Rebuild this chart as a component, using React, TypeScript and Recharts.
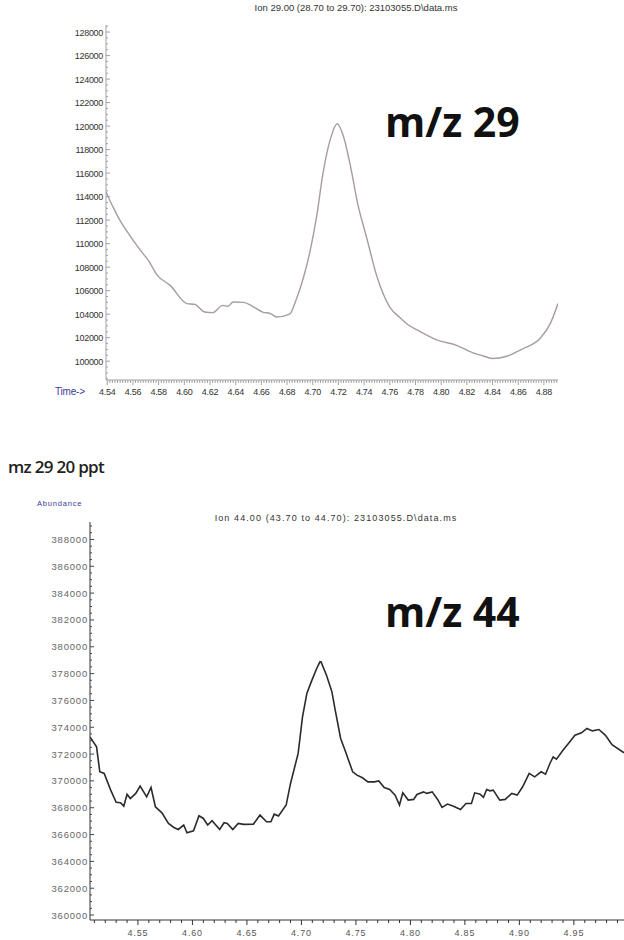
import { LineChart, Line, XAxis, YAxis } from 'recharts';

// m/z 29 trace (top panel)
const TOP_TIME = [
  4.539, 4.545, 4.55, 4.555, 4.566, 4.572, 4.579, 4.589, 4.602, 4.608, 4.616, 4.622, 4.63, 4.634,
  4.638, 4.646, 4.654, 4.661, 4.667, 4.672, 4.682, 4.687, 4.693, 4.698, 4.703, 4.708, 4.714, 4.719,
  4.724, 4.729, 4.735, 4.742, 4.75, 4.76, 4.768, 4.773, 4.784, 4.797, 4.812, 4.825, 4.834, 4.84,
  4.851, 4.864, 4.877, 4.885, 4.891,
];
const TOP_ABUNDANCE = [
  114400, 113000, 111960, 111100, 109400, 108570, 107300, 106450, 104900, 104840, 104180, 104130,
  104750, 104670, 105030, 105000, 104610, 104180, 104050, 103760, 104000, 105200, 107200, 109400,
  112300, 116000, 119000, 120200, 119100, 116800, 113400, 110500, 107200, 104600, 103700, 103200,
  102500, 101800, 101350, 100700, 100400, 100230, 100420, 101080, 101930, 103200, 104900,
];
const TOP_X_TICKS = [
  4.54, 4.56, 4.58, 4.6, 4.62, 4.64, 4.66, 4.68, 4.7, 4.72, 4.74, 4.76, 4.78, 4.8, 4.82, 4.84, 4.86, 4.88,
];
const TOP_Y_TICKS = [
  100000, 102000, 104000, 106000, 108000, 110000, 112000, 114000, 116000, 118000, 120000, 122000,
  124000, 126000, 128000,
];

// m/z 44 trace (bottom panel)
const BOTTOM_TIME = [
  4.506, 4.512, 4.515, 4.519, 4.525, 4.53, 4.534, 4.537, 4.54, 4.543, 4.548, 4.552, 4.558, 4.562,
  4.566, 4.572, 4.578, 4.583, 4.587, 4.592, 4.595, 4.601, 4.606, 4.61, 4.614, 4.618, 4.625, 4.629,
  4.632, 4.637, 4.642, 4.647, 4.656, 4.662, 4.668, 4.672, 4.675, 4.679, 4.686, 4.69, 4.697, 4.701,
  4.705, 4.709, 4.714, 4.717, 4.718, 4.723, 4.728, 4.731, 4.736, 4.74, 4.747, 4.751, 4.756, 4.761,
  4.767, 4.771, 4.776, 4.781, 4.786, 4.79, 4.793, 4.798, 4.803, 4.806, 4.812, 4.815, 4.82, 4.825,
  4.829, 4.834, 4.839, 4.846, 4.851, 4.856, 4.859, 4.864, 4.867, 4.87, 4.873, 4.876, 4.882, 4.887,
  4.893, 4.898, 4.903, 4.909, 4.914, 4.92, 4.924, 4.928, 4.931, 4.934, 4.94, 4.945, 4.951, 4.957,
  4.962, 4.967, 4.973, 4.979, 4.985, 4.996,
];
const BOTTOM_ABUNDANCE = [
  373280, 372540, 370680, 370560, 369310, 368400, 368370, 368120, 369010, 368690, 369070, 369610,
  368810, 369510, 368070, 367620, 366830, 366530, 366380, 366710, 366130, 366280, 367400, 367200,
  366710, 367030, 366380, 366880, 366830, 366380, 366830, 366760, 366780, 367450, 366950, 366950,
  367520, 367380, 368200, 369810, 372050, 374770, 376520, 377380, 378380, 378870, 378870, 377880,
  376640, 375270, 373160, 372290, 370680, 370430, 370230, 369930, 369930, 370000, 369510, 369360,
  368940, 368200, 369110, 368570, 368620, 368990, 369180, 369070, 369180, 368620, 368020, 368270,
  368120, 367870, 368320, 368320, 369110, 369010, 368770, 369360, 369260, 369310, 368570, 368620,
  369070, 368940, 369560, 370560, 370300, 370680, 370500, 371300, 371790, 371620, 372290, 372790,
  373410, 373580, 373910, 373730, 373830, 373400, 372700, 372100,
];
const BOTTOM_X_TICKS = [4.55, 4.6, 4.65, 4.7, 4.75, 4.8, 4.85, 4.9, 4.95];
const BOTTOM_Y_TICKS = [
  360000, 362000, 364000, 366000, 368000, 370000, 372000, 374000, 376000, 378000, 380000, 382000,
  384000, 386000, 388000,
];

const topData = TOP_TIME.map((t, i) => ({ t, v: TOP_ABUNDANCE[i] }));
const bottomData = BOTTOM_TIME.map((t, i) => ({ t, v: BOTTOM_ABUNDANCE[i] }));

// minor tick positions for the axis rulers
const range = (a: number, b: number, step: number) => {
  const out: number[] = [];
  const n = Math.round((b - a) / step);
  for (let i = 0; i <= n; i++) out.push(+(a + i * step).toFixed(4));
  return out;
};
const isIn = (list: number[], v: number) => list.some((m) => Math.abs(m - v) < 1e-6);

const FONT = '"Liberation Sans", Arial, sans-serif';

function XTick(props: any) {
  const { x, y, payload, majors, color, labelColor, fontSize, spacing, labelDy } = props;
  const major = isIn(majors, payload.value);
  return (
    <g>
      <line x1={x} x2={x} y1={y} y2={y + (major ? 5 : 3)} stroke={color} strokeWidth={1} />
      {major && (
        <text
          x={x}
          y={y + labelDy}
          textAnchor="middle"
          fontFamily={FONT}
          fontSize={fontSize}
          letterSpacing={spacing}
          fill={labelColor}
        >
          {payload.value.toFixed(2)}
        </text>
      )}
    </g>
  );
}

function YTick(props: any) {
  const { x, y, payload, majors, color, labelColor, fontSize, spacing, labelDx } = props;
  const major = isIn(majors, payload.value);
  return (
    <g>
      <line x1={x} x2={x + (major ? 4 : 2)} y1={y} y2={y} stroke={color} strokeWidth={1} />
      {major && (
        <text
          x={x - labelDx}
          y={y + 3.5}
          textAnchor="end"
          fontFamily={FONT}
          fontSize={fontSize}
          letterSpacing={spacing}
          fill={labelColor}
        >
          {payload.value}
        </text>
      )}
    </g>
  );
}

export default function App() {
  return (
    <div style={{ position: 'absolute', left: 0, top: 0, width: 624, height: 940, background: '#fff' }}>
      <div style={{ position: 'absolute', left: 0, top: 0 }}>
        <LineChart width={624} height={402} data={topData} margin={{ top: 25, right: 66, bottom: 0, left: 0 }}>
          <XAxis
            type="number"
            dataKey="t"
            domain={[4.539, 4.891]}
            allowDataOverflow
            ticks={range(4.54, 4.89, 0.002)}
            interval={0}
            height={22}
            tickSize={0}
            tickMargin={0}
            tickLine={false}
            stroke="#a0a0a0"
            tick={(p: any) => (
              <XTick {...p} majors={TOP_X_TICKS} color="#a0a0a0" labelColor="#333" fontSize={9} spacing={-0.3} labelDy={15} />
            )}
          />
          <YAxis
            type="number"
            domain={[98400, 128600]}
            allowDataOverflow
            ticks={range(98500, 128500, 500)}
            interval={0}
            width={106}
            tickSize={0}
            tickMargin={0}
            tickLine={false}
            stroke="#a0a0a0"
            tick={(p: any) => (
              <YTick {...p} majors={TOP_Y_TICKS} color="#a0a0a0" labelColor="#333" fontSize={9} spacing={-0.3} labelDx={3} />
            )}
          />
          <Line
            type="monotone"
            dataKey="v"
            stroke="#a89c9c"
            strokeWidth={1.4}
            dot={false}
            isAnimationActive={false}
          />
        </LineChart>
      </div>

      <div style={{ position: 'absolute', left: 0, top: 500 }}>
        <LineChart width={624} height={442} data={bottomData} margin={{ top: 22, right: 0, bottom: 0, left: 0 }}>
          <XAxis
            type="number"
            dataKey="t"
            domain={[4.506, 4.996]}
            allowDataOverflow
            ticks={range(4.51, 4.99, 0.01)}
            interval={0}
            height={22}
            tickSize={0}
            tickMargin={0}
            tickLine={false}
            stroke="#333"
            tick={(p: any) => (
              <XTick {...p} majors={BOTTOM_X_TICKS} color="#333" labelColor="#555" fontSize={9} spacing={0.8} labelDy={16} />
            )}
          />
          <YAxis
            type="number"
            domain={[359630, 389300]}
            allowDataOverflow
            ticks={range(360000, 389000, 500)}
            interval={0}
            width={90}
            tickSize={0}
            tickMargin={0}
            tickLine={false}
            stroke="#333"
            tick={(p: any) => (
              <YTick {...p} majors={BOTTOM_Y_TICKS} color="#444" labelColor="#666" fontSize={9.5} spacing={0.8} labelDx={2} />
            )}
          />
          <Line
            type="linear"
            dataKey="v"
            stroke="#2b2b2b"
            strokeWidth={1.6}
            dot={false}
            isAnimationActive={false}
          />
        </LineChart>
      </div>

      <svg
        width={624}
        height={940}
        style={{ position: 'absolute', left: 0, top: 0, pointerEvents: 'none' }}
      >
        <text x={356} y={11} textAnchor="middle" fontFamily={FONT} fontSize={9.5} letterSpacing={0} fill="#333">
          Ion 29.00 (28.70 to 29.70): 23103055.D\data.ms
        </text>
        <text x={385} y={137} fontFamily='"Open Sans", sans-serif' fontWeight={700} fontSize={41} fill="#111">
          m/z 29
        </text>
        <text x={55} y={395} fontFamily={FONT} fontSize={10} letterSpacing={-0.2} fill="#3a3a9a">
          Time-&gt;
        </text>
        <text x={8} y={473} fontFamily='"Open Sans", sans-serif' fontWeight={600} fontSize={17} letterSpacing={-0.7} fill="#222">
          mz 29 20 ppt
        </text>
        <text x={37} y={506} fontFamily={FONT} fontSize={7.5} letterSpacing={0.8} fill="#3a3a9a">
          Abundance
        </text>
        <text x={336} y={521} textAnchor="middle" fontFamily={FONT} fontSize={9} letterSpacing={1.1} fill="#333">
          Ion 44.00 (43.70 to 44.70): 23103055.D\data.ms
        </text>
        <text x={385} y={627} fontFamily='"Open Sans", sans-serif' fontWeight={700} fontSize={41} fill="#111">
          m/z 44
        </text>
      </svg>
    </div>
  );
}
